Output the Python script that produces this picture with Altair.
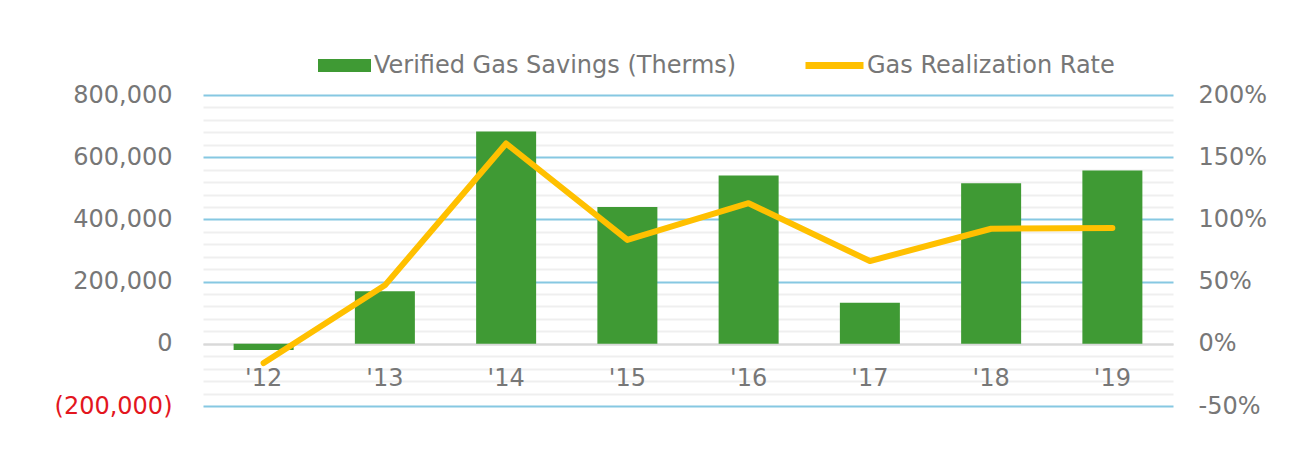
import altair as alt
import pandas as pd

years = ["'12", "'13", "'14", "'15", "'16", "'17", "'18", "'19"]
savings = [-20000, 169000, 683000, 440000, 541000, 132000, 516000, 557000]
rates = [-0.155, 0.47, 1.61, 0.835, 1.13, 0.665, 0.925, 0.93]
bar_name = "Verified Gas Savings (Therms)"
line_name = "Gas Realization Rate"
bar_color = "#3F9A34"
line_color = "#FFC000"
left_ticks = list(range(-200000, 800001, 40000))
right_ticks = [-0.5, 0.0, 0.5, 1.0, 1.5, 2.0]

df = pd.DataFrame({
    "year": years, "savings": savings, "rate": rates,
    "bar_series": [bar_name] * len(years),
    "line_series": [line_name] * len(years),
})

FONT = "DejaVu Sans"
GRAY = "#777777"
FS = 24

x_enc = alt.X(
    "year:N",
    sort=years,
    scale=alt.Scale(paddingInner=0.5, paddingOuter=0.25),
    axis=alt.Axis(
        title=None, orient="bottom", offset=-62, domain=True,
        domainColor="#D9D9D9", domainWidth=2, ticks=False, tickSize=0,
        labelPadding=22, labelFontSize=FS, labelColor=GRAY, labelAngle=0,
        grid=False,
    ),
)

bar_legend = alt.Legend(
    title=None, orient="none", direction="horizontal",
    legendX=115, legendY=-56,
    labelFontSize=FS, labelColor=GRAY, labelFont=FONT, labelLimit=800,
    symbolType="M-1,-0.245H1V0.245H-1Z", symbolSize=2809,
    symbolStrokeWidth=0, symbolOpacity=1, labelOffset=3,
)

line_legend = alt.Legend(
    title=None, orient="none", direction="horizontal",
    legendX=599, legendY=-62,
    labelFontSize=FS, labelColor=GRAY, labelFont=FONT, labelLimit=800,
    symbolType="M-1,0H1", symbolSize=3364,
    symbolStrokeWidth=7, symbolOpacity=1, labelOffset=0,
)

bars = alt.Chart(df).mark_bar(size=60).encode(
    x=x_enc,
    y=alt.Y(
        "savings:Q",
        scale=alt.Scale(domain=[-200000, 800000], nice=False, zero=False),
        axis=alt.Axis(
            title=None, orient="left", values=left_ticks,
            labelExpr="datum.value % 200000 !== 0 ? '' : (datum.value < 0 ? '(' + format(-datum.value, ',') + ')' : format(datum.value, ','))",
            labelColor={"condition": {"test": "datum.value < 0", "value": "#E3161E"}, "value": GRAY},
            labelFontSize=FS, labelPadding=31, labelOverlap=False,
            domain=False, ticks=False, tickSize=0,
            grid=True,
            gridColor={
                "condition": [
                    {"test": "datum.value === 0", "value": "#D9D9D9"},
                    {"test": "datum.value % 200000 === 0", "value": "#86C8E2"},
                ],
                "value": "#EFEFEF",
            },
            gridWidth=2,
        ),
    ),
    color=alt.Color("bar_series:N", scale=alt.Scale(domain=[bar_name], range=[bar_color]), legend=bar_legend),
)

line = alt.Chart(df).mark_line(strokeWidth=6, strokeCap="round", strokeJoin="round").encode(
    x=x_enc,
    y=alt.Y(
        "rate:Q",
        scale=alt.Scale(domain=[-0.5, 2.0], nice=False, zero=False),
        axis=alt.Axis(
            title=None, orient="right", values=right_ticks,
            labelExpr="(datum.value < 0 ? '-' : '') + format(abs(datum.value), '.0%')",
            labelFontSize=FS, labelColor=GRAY, labelPadding=25,
            domain=False, ticks=False, tickSize=0, grid=False, labelOverlap=False,
        ),
    ),
    stroke=alt.Stroke("line_series:N", scale=alt.Scale(domain=[line_name], range=[line_color]), legend=line_legend),
)

chart = (
    alt.layer(bars, line)
    .resolve_scale(y="independent")
    .properties(
        width=970, height=311,
        autosize=alt.AutoSizeParams(type="none"),
        padding={"left": 195, "top": 87, "right": 128, "bottom": 52},
    )
    .configure(font=FONT)
    .configure_view(stroke=None)
    .configure_axis(labelFont=FONT)
)

chart.save("out.html", embed_options={"renderer": "svg", "actions": False})
